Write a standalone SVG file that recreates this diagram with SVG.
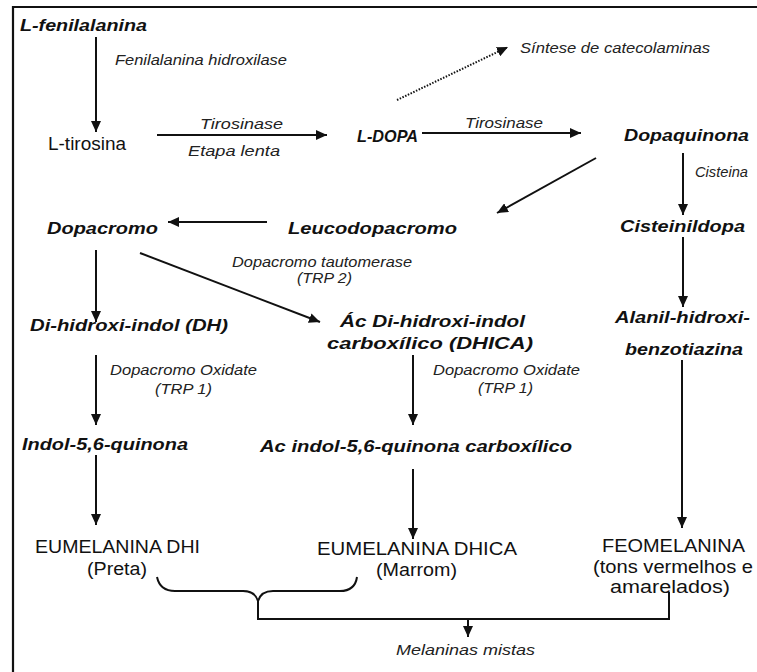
<svg xmlns="http://www.w3.org/2000/svg" width="757" height="672" viewBox="0 0 757 672">
<defs>
<marker id="ah" markerUnits="userSpaceOnUse" markerWidth="11" markerHeight="10" refX="11" refY="5" orient="auto">
<path d="M0,0 L11,5 L0,10 Z" fill="#111"/>
</marker>
<style>
.b{font-family:"Liberation Sans",Arial,sans-serif;font-size:17px;font-weight:bold;font-style:italic;fill:#111}
.i{font-family:"Liberation Sans",Arial,sans-serif;font-size:14px;font-style:italic;fill:#222}
.r{font-family:"Liberation Sans",Arial,sans-serif;font-size:17.5px;fill:#111}
.ln{stroke:#111;stroke-width:2;fill:none}
.ar{stroke:#111;stroke-width:2;fill:none;marker-end:url(#ah)}
</style>
</defs>
<rect width="757" height="672" fill="#fff"/>
<g id="frame">
<line x1="12" y1="7" x2="757" y2="7" stroke="#111" stroke-width="2.2"/>
<line x1="13" y1="6" x2="13" y2="672" stroke="#111" stroke-width="2.2"/>
</g>
<g id="connectors">
<line class="ar" x1="96" y1="37" x2="96" y2="132"/>
<line class="ar" x1="157" y1="135" x2="327" y2="135"/>
<line class="ar" x1="422" y1="133" x2="581" y2="133"/>
<line x1="397" y1="100" x2="508" y2="47" stroke="#111" stroke-width="2" stroke-dasharray="1.5 1.5" marker-end="url(#ah)"/>
<line class="ar" x1="596" y1="158" x2="497" y2="213"/>
<line class="ar" x1="683" y1="153" x2="683" y2="215"/>
<line class="ar" x1="267" y1="222" x2="168" y2="222"/>
<line class="ar" x1="96" y1="250" x2="96" y2="322"/>
<line class="ar" x1="140" y1="253" x2="320" y2="322"/>
<line class="ar" x1="683" y1="237" x2="683" y2="307"/>
<line class="ar" x1="96" y1="355" x2="96" y2="425"/>
<line class="ar" x1="413" y1="355" x2="413" y2="425"/>
<line class="ar" x1="96" y1="455" x2="96" y2="525"/>
<line class="ar" x1="413" y1="469" x2="413" y2="539"/>
<line class="ar" x1="682" y1="360" x2="682" y2="528"/>
<path class="ln" d="M157,577 Q160,591 175,591 L243,591 Q255,591 258,601 Q261,591 273,591 L340,591 Q355,591 357,577"/>
<path class="ln" d="M258,600 L258,619 L669,619 L669,592"/>
<line class="ar" x1="468" y1="619" x2="468" y2="637"/>
</g>
<g id="n-lfen"><text class="b" x="20" y="31" textLength="127" lengthAdjust="spacingAndGlyphs">L-fenilalanina</text></g>
<g id="l-fenhidrox"><text class="i" x="115" y="65" textLength="172" lengthAdjust="spacingAndGlyphs">Fenilalanina hidroxilase</text></g>
<g id="n-ltir"><text class="r" x="48" y="150" font-size="17" textLength="78" lengthAdjust="spacingAndGlyphs">L-tirosina</text></g>
<g id="l-tir1"><text class="i" x="200" y="129" textLength="83" lengthAdjust="spacingAndGlyphs">Tirosinase</text><text class="i" x="188" y="156" textLength="92" lengthAdjust="spacingAndGlyphs">Etapa lenta</text></g>
<g id="n-ldopa"><text class="b" x="357" y="142" font-size="16" textLength="61" lengthAdjust="spacingAndGlyphs">L-DOPA</text></g>
<g id="l-tir2"><text class="i" x="465" y="128" textLength="78" lengthAdjust="spacingAndGlyphs">Tirosinase</text></g>
<g id="n-sintese"><text class="i" x="520" y="53" textLength="190" lengthAdjust="spacingAndGlyphs">Síntese de catecolaminas</text></g>
<g id="n-dopaq"><text class="b" x="624" y="141" textLength="125" lengthAdjust="spacingAndGlyphs">Dopaquinona</text></g>
<g id="l-cist"><text class="i" x="695" y="177" font-size="13" textLength="53" lengthAdjust="spacingAndGlyphs">Cisteina</text></g>
<g id="n-dopacromo"><text class="b" x="47" y="234" textLength="111" lengthAdjust="spacingAndGlyphs">Dopacromo</text></g>
<g id="n-leuco"><text class="b" x="288" y="234" textLength="169" lengthAdjust="spacingAndGlyphs">Leucodopacromo</text></g>
<g id="n-cisteinil"><text class="b" x="620" y="232" textLength="125" lengthAdjust="spacingAndGlyphs">Cisteinildopa</text></g>
<g id="l-taut"><text class="i" x="232" y="267" textLength="180" lengthAdjust="spacingAndGlyphs">Dopacromo tautomerase</text><text class="i" x="297" y="283" textLength="55" lengthAdjust="spacingAndGlyphs">(TRP 2)</text></g>
<g id="n-dh"><text class="b" x="30" y="331" textLength="198" lengthAdjust="spacingAndGlyphs">Di-hidroxi-indol (DH)</text></g>
<g id="n-dhica"><text class="b" x="340" y="327" textLength="185" lengthAdjust="spacingAndGlyphs">Ác Di-hidroxi-indol</text><text class="b" x="327" y="349" textLength="206" lengthAdjust="spacingAndGlyphs">carboxílico (DHICA)</text></g>
<g id="n-alanil"><text class="b" x="615" y="323" textLength="135" lengthAdjust="spacingAndGlyphs">Alanil-hidroxi-</text><text class="b" x="625" y="355" textLength="118" lengthAdjust="spacingAndGlyphs">benzotiazina</text></g>
<g id="l-ox1"><text class="i" x="110" y="375" textLength="147" lengthAdjust="spacingAndGlyphs">Dopacromo Oxidate</text><text class="i" x="155" y="394" textLength="57" lengthAdjust="spacingAndGlyphs">(TRP 1)</text></g>
<g id="l-ox2"><text class="i" x="433" y="375" textLength="147" lengthAdjust="spacingAndGlyphs">Dopacromo Oxidate</text><text class="i" x="478" y="393" textLength="55" lengthAdjust="spacingAndGlyphs">(TRP 1)</text></g>
<g id="n-indol"><text class="b" x="22" y="450" textLength="166" lengthAdjust="spacingAndGlyphs">Indol-5,6-quinona</text></g>
<g id="n-acindol"><text class="b" x="260" y="452" textLength="312" lengthAdjust="spacingAndGlyphs">Ac indol-5,6-quinona carboxílico</text></g>
<g id="n-eudhi"><text class="r" x="35" y="553" textLength="165" lengthAdjust="spacingAndGlyphs">EUMELANINA DHI</text><text class="r" x="87" y="575" textLength="60" lengthAdjust="spacingAndGlyphs">(Preta)</text></g>
<g id="n-eudhica"><text class="r" x="317" y="555" textLength="200" lengthAdjust="spacingAndGlyphs">EUMELANINA DHICA</text><text class="r" x="376" y="576" textLength="81" lengthAdjust="spacingAndGlyphs">(Marrom)</text></g>
<g id="n-feo"><text class="r" x="602" y="552" textLength="143" lengthAdjust="spacingAndGlyphs">FEOMELANINA</text><text class="r" x="593" y="573" textLength="160" lengthAdjust="spacingAndGlyphs">(tons vermelhos e</text><text class="r" x="610" y="593" textLength="120" lengthAdjust="spacingAndGlyphs">amarelados)</text></g>
<g id="n-mistas"><text class="i" x="396" y="655" font-size="15" textLength="139" lengthAdjust="spacingAndGlyphs">Melaninas mistas</text></g>
</svg>
